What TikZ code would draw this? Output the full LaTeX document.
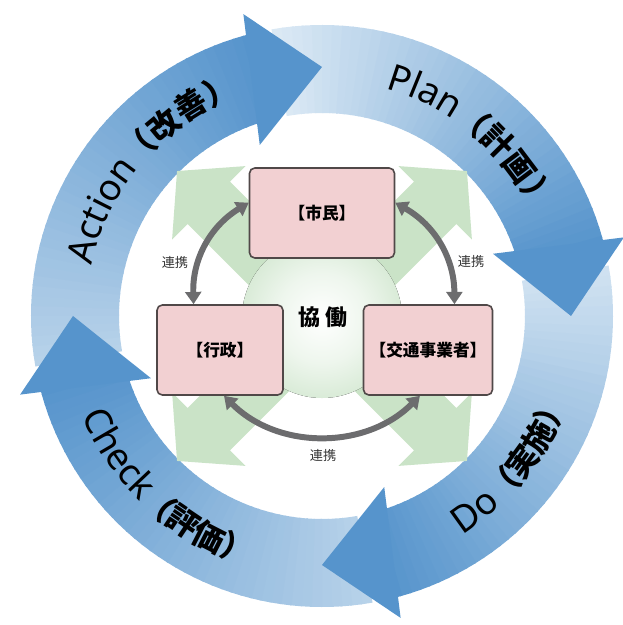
\documentclass[tikz,border=0pt]{standalone}
\usepackage{fontspec}
\usetikzlibrary{arrows.meta,decorations.text}
\newfontfamily\pdcajp{Noto Sans CJK JP}
\newfontfamily\pdcalatin{Noto Sans}
\definecolor{pdcadark}{RGB}{86,148,204}
\definecolor{pdcalight}{RGB}{224,236,246}
\definecolor{actorpink}{RGB}{242,208,210}
\definecolor{actorline}{RGB}{80,72,72}
\definecolor{kyodogreen}{RGB}{170,210,166}
\definecolor{arrowgreen}{RGB}{202,227,199}
\definecolor{linkgray}{RGB}{108,108,110}
\newcommand\pdcaen{\pdcalatin\fontsize{21}{21}\selectfont}
\newcommand\pdcaja{\pdcajp\bfseries\fontsize{18}{18}\selectfont}
\pgfdeclareradialshading{kyodoball}{\pgfpoint{0bp}{0bp}}{color(0bp)=(white); color(14bp)=(white!80!kyodogreen); color(50bp)=(kyodogreen)}

\begin{document}
\begin{tikzpicture}[x=0.02cm,y=0.02cm,
  actorbox/.style={draw=actorline,fill=actorpink,line width=0.9pt,rounded corners=3pt,minimum height=1.8cm,font=\pdcajp\bfseries\fontsize{9.5}{11}\selectfont},
  linklabel/.style={font=\pdcajp\fontsize{7.5}{9}\selectfont,text=black!80},
  linkarrow/.style={draw=linkgray,line width=3.4pt,{Triangle[length=7pt,width=9pt]}-{Triangle[length=7pt,width=9pt]}},
  greenarrow/.style={fill=arrowgreen},
  ringhead/.style={fill=pdcadark}]
  \useasboundingbox (-322,-309) rectangle (300,316);
  % PDCA ring
  \foreach \t/\s in {0/4,-90/12,180/30,90/30}
    \foreach \i in {0,...,42}{
      \pgfmathtruncatemacro\p{\s+(100-\s)*\i/42}
      \pgfmathsetmacro\a{\t+100-2*\i}
      \fill[pdcadark!\p!pdcalight] (\a:291) arc[start angle=\a,end angle=\a-2.4,radius=291] -- ({\a-2.4}:203) arc[start angle=\a-2.4,end angle=\a,radius=203] -- cycle;
    }
  \foreach \t in {0,-90,180,90}
    \fill[ringhead] ({\t+14.6}:312) -- (\t:249) -- ({\t+20}:182) -- cycle;
  \path[decorate,decoration={text along path,text align=center,text={|\pdcaen|Plan|\pdcaja|（計画）}}] (95:236) arc[start angle=95,end angle=5,radius=236];
  \path[decorate,decoration={text along path,text align=center,text={|\pdcaen|Do|\pdcaja|（実施）}}] (-83:260) arc[start angle=-83,end angle=7,radius=260];
  \path[decorate,decoration={text along path,text align=center,text={|\pdcaen|Check|\pdcaja|（評価）}}] (183:260) arc[start angle=183,end angle=273,radius=260];
  \path[decorate,decoration={text along path,text align=center,text={|\pdcaen|Action|\pdcaja|（改善）}}] (185:236) arc[start angle=185,end angle=93,radius=236];
  % collaboration
  \foreach \g in {45,135,225,315}
    \fill[greenarrow,rotate=\g] (30,-30) -- (160,-30) -- (160,-52) -- (205,0) -- (160,52) -- (160,30) -- (30,30) -- cycle;
  \fill[shading=kyodoball] (0,-2) circle[radius=80];
  \node[actorbox,minimum width=2.9cm] (shimin) at (0,103) {【市民】};
  \node[actorbox,minimum width=2.52cm] (gyousei) at (-102,-34) {【行政】};
  \node[actorbox,minimum width=2.58cm] (kotsu) at (106,-34) {【交通事業者】};
  \node[font=\pdcajp\bfseries\fontsize{12.5}{14}\selectfont] (kyodo) at (1,-1) {協 働};
  \draw[linkarrow] (gyousei.120) to[bend left=30] (shimin.172);
  \draw[linkarrow] (shimin.8) to[bend left=30] (kotsu.60);
  \draw[linkarrow] (kotsu.-100) to[bend left=45] (gyousei.-85);
  \node[linklabel] (renkeiL) at (-147,53) {連携};
  \node[linklabel] (renkeiR) at (149,54) {連携};
  \node[linklabel] (renkeiB) at (1,-140) {連携};
\end{tikzpicture}
\end{document}
